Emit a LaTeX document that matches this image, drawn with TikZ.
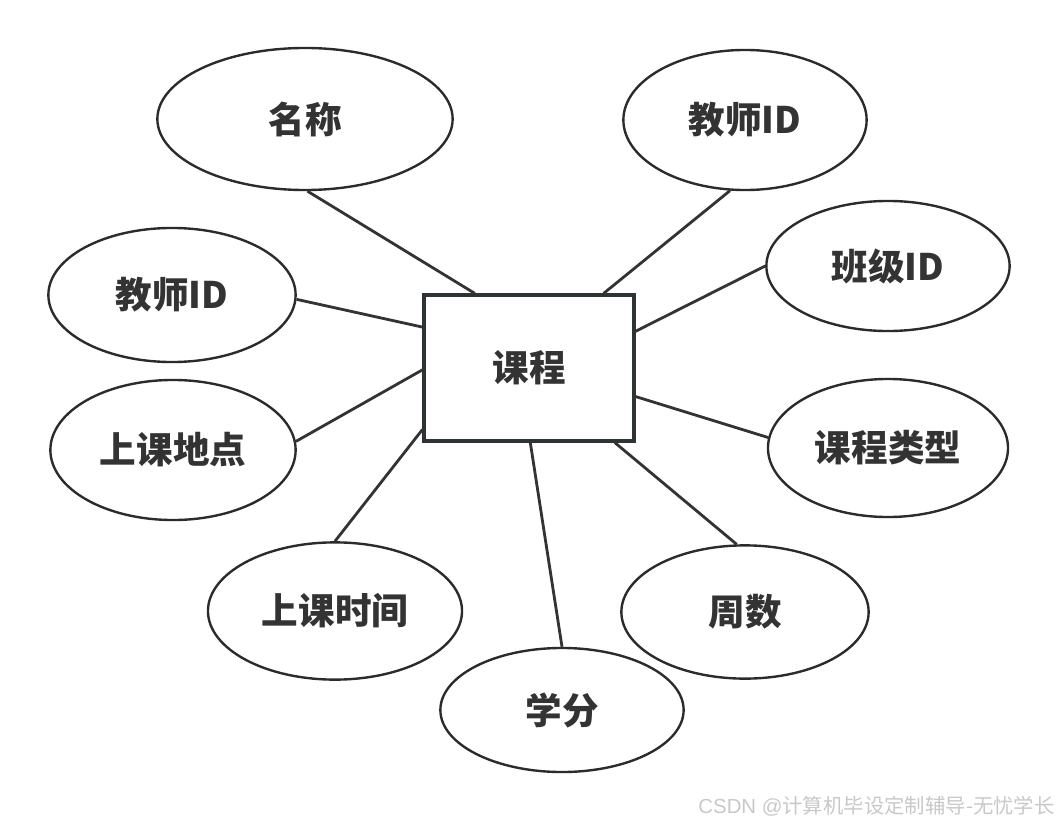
\documentclass[tikz,border=0pt]{standalone}
\usepackage{fontspec}
\setmainfont{Noto Sans CJK SC}
\newfontfamily\markfont{Liberation Sans}
\usepackage{xcolor}
\usetikzlibrary{shapes.geometric}
\definecolor{inkdark}{HTML}{2B2B2B}
\definecolor{boxdark}{HTML}{2D3436}
\definecolor{textdark}{HTML}{333333}
\definecolor{markgray}{HTML}{C8C8C8}

\begin{document}
\begin{tikzpicture}[
  x=0.025cm, y=-0.025cm,
  entity/.style={rectangle, draw=boxdark, line width=2.2pt, fill=white, inner sep=0pt, minimum width=5.25cm, minimum height=3.65cm, font=\fontsize{26}{30}\selectfont\bfseries, text=textdark},
  attr/.style={ellipse, draw=inkdark, line width=1.7pt, fill=white, inner sep=0pt, font=\fontsize{26}{30}\selectfont\bfseries, text=textdark},
  link/.style={draw=textdark, line width=2pt}
]
\useasboundingbox (0,0) rectangle (1060,822);

\node[entity] (course) at (529,368) {课程};

\node[attr, minimum width=7.38cm, minimum height=3.55cm] (name) at (305,119) {名称};
\node[attr, minimum width=6.08cm, minimum height=3.5cm] (teacherR) at (745,120) {教师ID};
\node[attr, minimum width=6.08cm, minimum height=3.25cm] (classid) at (888,266) {班级ID};
\node[attr, minimum width=6.18cm, minimum height=3.35cm] (teacherL) at (172,295) {教师ID};
\node[attr, minimum width=6.13cm, minimum height=3.5cm] (place) at (173,450) {上课地点};
\node[attr, minimum width=6.0cm, minimum height=3.45cm] (ctype) at (888,448) {课程类型};
\node[attr, minimum width=6.35cm, minimum height=3.43cm] (time) at (335,611) {上课时间};
\node[attr, minimum width=6.18cm, minimum height=3.33cm] (weeks) at (745,612) {周数};
\node[attr, minimum width=6.08cm, minimum height=3.1cm] (credit) at (562,710) {学分};

\draw[link] (name.-88) -- (course.126);
\draw[link] (teacherR.-102) -- (course.45);
\draw[link] (classid.180) -- (course.19);
\draw[link] (teacherL.-2) -- (course.159);
\draw[link] (place.4) -- (course.181);
\draw[link] (ctype.175) -- (course.-15);
\draw[link] (time.90) -- (course.210);
\draw[link] (credit.90) -- (course.-89);
\draw[link] (weeks.97) -- (course.-41);

\node[anchor=east, text=markgray, font=\fontsize{14.5}{16}\selectfont, inner sep=0pt] (mark) at (1055,806) {{\markfont CSDN @}计算机毕设定制辅导-无忧学长};
\end{tikzpicture}
\end{document}
